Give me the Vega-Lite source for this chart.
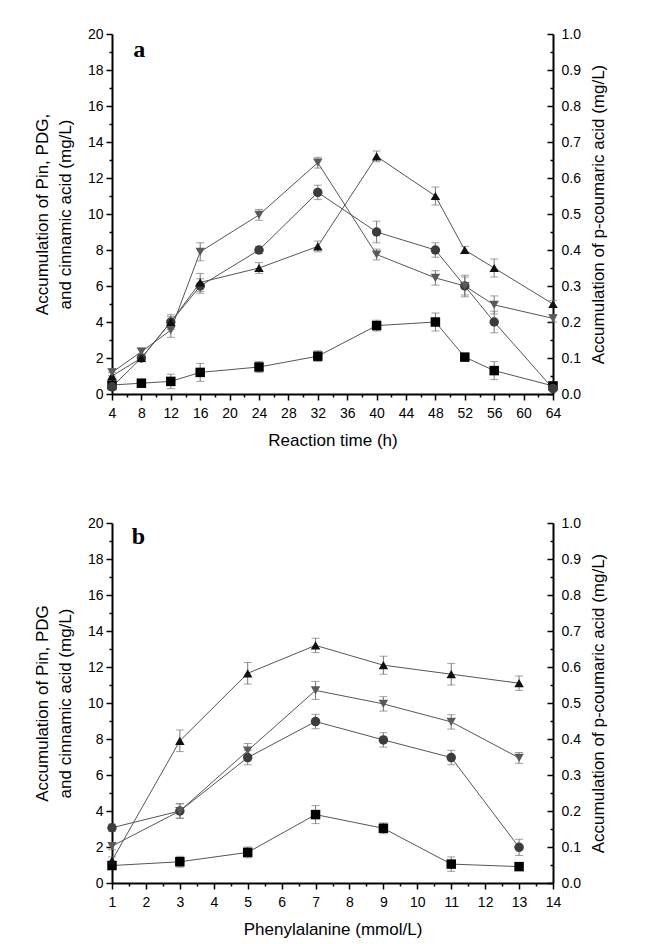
{
  "$schema": "https://vega.github.io/schema/vega-lite/v6.json",
  "padding": {"left": 33, "top": 27, "right": 5, "bottom": 5},
  "spacing": 68,
  "config": {
    "view": {"stroke": null},
    "axis": {
      "labelFont": "Liberation Sans", "titleFont": "Liberation Sans",
      "labelFontSize": 14, "titleFontSize": 17, "titleFontWeight": "normal",
      "labelColor": "#000", "titleColor": "#000", "domainColor": "#000", "tickColor": "#000",
      "domainWidth": 2, "tickWidth": 1.5, "grid": false,
      "labelFlush": false, "labelOverlap": false
    }
  },
  "datasets": {
    "a": [
      {"s": "square", "x": 4, "v": 0.5, "e": 0.1}, {"s": "square", "x": 8, "v": 0.6, "e": 0.1},
      {"s": "square", "x": 12, "v": 0.7, "e": 0.4}, {"s": "square", "x": 16, "v": 1.2, "e": 0.5},
      {"s": "square", "x": 24, "v": 1.5, "e": 0.3}, {"s": "square", "x": 32, "v": 2.1, "e": 0.3},
      {"s": "square", "x": 40, "v": 3.8, "e": 0.3}, {"s": "square", "x": 48, "v": 4.0, "e": 0.5},
      {"s": "square", "x": 52, "v": 2.05, "e": 0.1}, {"s": "square", "x": 56, "v": 1.3, "e": 0.5},
      {"s": "square", "x": 64, "v": 0.45, "e": 0.1},
      {"s": "circle", "x": 4, "v": 0.4, "e": 0.2}, {"s": "circle", "x": 8, "v": 2.0, "e": 0.2},
      {"s": "circle", "x": 12, "v": 4.0, "e": 0.4}, {"s": "circle", "x": 16, "v": 6.0, "e": 0.4},
      {"s": "circle", "x": 24, "v": 8.0, "e": 0.2}, {"s": "circle", "x": 32, "v": 11.2, "e": 0.4},
      {"s": "circle", "x": 40, "v": 9.0, "e": 0.6}, {"s": "circle", "x": 48, "v": 8.0, "e": 0.4},
      {"s": "circle", "x": 52, "v": 6.0, "e": 0.6}, {"s": "circle", "x": 56, "v": 4.0, "e": 0.6},
      {"s": "circle", "x": 64, "v": 0.3, "e": 0.1},
      {"s": "up", "x": 4, "v": 1.0, "e": 0.2}, {"s": "up", "x": 8, "v": 2.0, "e": 0.2},
      {"s": "up", "x": 12, "v": 4.0, "e": 0.3}, {"s": "up", "x": 16, "v": 6.2, "e": 0.5},
      {"s": "up", "x": 24, "v": 7.0, "e": 0.3}, {"s": "up", "x": 32, "v": 8.2, "e": 0.3},
      {"s": "up", "x": 40, "v": 13.2, "e": 0.3}, {"s": "up", "x": 48, "v": 11.0, "e": 0.5},
      {"s": "up", "x": 52, "v": 8.0, "e": 0.2}, {"s": "up", "x": 56, "v": 7.0, "e": 0.5},
      {"s": "up", "x": 64, "v": 5.0, "e": 0.2},
      {"s": "down", "x": 4, "v": 1.2, "e": 0.2}, {"s": "down", "x": 8, "v": 2.35, "e": 0.2},
      {"s": "down", "x": 12, "v": 3.55, "e": 0.4}, {"s": "down", "x": 16, "v": 7.9, "e": 0.5},
      {"s": "down", "x": 24, "v": 9.95, "e": 0.3}, {"s": "down", "x": 32, "v": 12.85, "e": 0.3},
      {"s": "down", "x": 40, "v": 7.75, "e": 0.3}, {"s": "down", "x": 48, "v": 6.45, "e": 0.4},
      {"s": "down", "x": 52, "v": 6.0, "e": 0.5}, {"s": "down", "x": 56, "v": 4.95, "e": 0.5},
      {"s": "down", "x": 64, "v": 4.2, "e": 0.2}
    ],
    "b": [
      {"s": "square", "x": 1, "v": 0.97, "e": 0.1}, {"s": "square", "x": 3, "v": 1.18, "e": 0.3},
      {"s": "square", "x": 5, "v": 1.7, "e": 0.3}, {"s": "square", "x": 7, "v": 3.8, "e": 0.5},
      {"s": "square", "x": 9, "v": 3.04, "e": 0.3}, {"s": "square", "x": 11, "v": 1.05, "e": 0.4},
      {"s": "square", "x": 13, "v": 0.91, "e": 0.1},
      {"s": "circle", "x": 1, "v": 3.07, "e": 0.2}, {"s": "circle", "x": 3, "v": 4.0, "e": 0.4},
      {"s": "circle", "x": 5, "v": 6.97, "e": 0.4}, {"s": "circle", "x": 7, "v": 8.97, "e": 0.4},
      {"s": "circle", "x": 9, "v": 7.95, "e": 0.4}, {"s": "circle", "x": 11, "v": 6.97, "e": 0.4},
      {"s": "circle", "x": 13, "v": 1.98, "e": 0.45},
      {"s": "up", "x": 1, "v": 1.25, "e": 0.2}, {"s": "up", "x": 3, "v": 7.9, "e": 0.6},
      {"s": "up", "x": 5, "v": 11.65, "e": 0.6}, {"s": "up", "x": 7, "v": 13.2, "e": 0.4},
      {"s": "up", "x": 9, "v": 12.1, "e": 0.5}, {"s": "up", "x": 11, "v": 11.6, "e": 0.6},
      {"s": "up", "x": 13, "v": 11.1, "e": 0.4},
      {"s": "down", "x": 1, "v": 2.05, "e": 0.2}, {"s": "down", "x": 3, "v": 4.0, "e": 0.4},
      {"s": "down", "x": 5, "v": 7.35, "e": 0.4}, {"s": "down", "x": 7, "v": 10.7, "e": 0.5},
      {"s": "down", "x": 9, "v": 9.95, "e": 0.4}, {"s": "down", "x": 11, "v": 8.95, "e": 0.4},
      {"s": "down", "x": 13, "v": 6.95, "e": 0.3}
    ],
    "labels": [
      {"panel": "a", "x": 7.7, "v": 19.1, "label": "a"},
      {"panel": "b", "x": 1.78, "v": 19.2, "label": "b"}
    ]
  },
  "vconcat": [
    {
      "width": 441, "height": 360,
      "resolve": {"scale": {"y": "independent"}},
      "layer": [
        {
          "data": {"name": "a"},
          "encoding": {
            "x": {"field": "x", "type": "quantitative",
              "scale": {"domain": [4, 64], "nice": false, "zero": false},
              "axis": {"title": "Reaction time (h)",
                "values": [4,6,8,10,12,14,16,18,20,22,24,26,28,30,32,34,36,38,40,42,44,46,48,50,52,54,56,58,60,62,64],
                "labelExpr": "datum.value % 4 === 0 ? datum.label : ''",
                "tickSize": {"condition": {"test": "datum.value % 4 === 0", "value": 6}, "value": 3},
                "labelPadding": 6, "titlePadding": 12}},
            "y": {"field": "v", "type": "quantitative",
              "scale": {"domain": [0, 20], "nice": false},
              "axis": {"title": ["Accumulation of Pin, PDG,", "and cinnamic acid (mg/L)"],
                "titleLineHeight": 23,
                "values": [0,1,2,3,4,5,6,7,8,9,10,11,12,13,14,15,16,17,18,19,20],
                "labelExpr": "datum.value % 2 === 0 ? datum.label : ''",
                "tickSize": {"condition": {"test": "datum.value % 2 === 0", "value": 6}, "value": 3},
                "labelPadding": 3, "titlePadding": 13}},
            "color": {"field": "s", "type": "nominal", "legend": null,
              "scale": {"domain": ["square", "circle", "up", "down"], "range": ["#000000", "#3c3c3c", "#111111", "#5a5a5a"]}},
            "shape": {"field": "s", "type": "nominal", "legend": null,
              "scale": {"domain": ["square", "circle", "up", "down"], "range": ["square", "circle", "triangle-up", "triangle-down"]}}
          },
          "layer": [
            {"mark": {"type": "line", "color": "#555555", "strokeWidth": 1},
             "encoding": {"detail": {"field": "s"}, "color": {"value": "#555555"}}},
            {"mark": {"type": "errorbar", "ticks": {"size": 8}, "color": "#777777", "thickness": 1},
             "encoding": {"yError": {"field": "e"}, "color": {"value": "#777777"}}},
            {"mark": {"type": "point", "filled": true, "size": 90, "opacity": 1}},
            {"data": {"name": "labels"},
             "transform": [{"filter": "datum.panel === 'a'"}],
             "mark": {"type": "text", "font": "Liberation Serif", "fontWeight": "bold", "fontSize": 24, "align": "center", "baseline": "middle"},
             "encoding": {"text": {"field": "label"}, "color": {"value": "#000"}}}
          ]
        },
        {
          "data": {"values": [{"r": 0}]},
          "mark": {"type": "point", "opacity": 0},
          "encoding": {
            "y": {"field": "r", "type": "quantitative",
              "scale": {"domain": [0, 1], "nice": false},
              "axis": {"orient": "right", "title": "Accumulation of p-coumaric acid (mg/L)",
                "titleAngle": 270, "titleBaseline": "top",
                "values": [0,0.05,0.1,0.15,0.2,0.25,0.3,0.35,0.4,0.45,0.5,0.55,0.6,0.65,0.7,0.75,0.8,0.85,0.9,0.95,1],
                "labelExpr": "round(datum.value*20) % 2 === 0 ? format(datum.value, '.1f') : ''",
                "tickSize": {"condition": {"test": "round(datum.value*20) % 2 === 0", "value": -6}, "value": -3},
                "labelPadding": 14, "titlePadding": 10}}
          }
        }
      ]
    },
    {
      "width": 441, "height": 360,
      "resolve": {"scale": {"y": "independent"}},
      "layer": [
        {
          "data": {"name": "b"},
          "encoding": {
            "x": {"field": "x", "type": "quantitative",
              "scale": {"domain": [1, 14], "nice": false, "zero": false},
              "axis": {"title": "Phenylalanine (mmol/L)",
                "values": [1,1.5,2,2.5,3,3.5,4,4.5,5,5.5,6,6.5,7,7.5,8,8.5,9,9.5,10,10.5,11,11.5,12,12.5,13,13.5,14],
                "labelExpr": "datum.value % 1 === 0 ? format(datum.value, 'd') : ''",
                "tickSize": {"condition": {"test": "datum.value % 1 === 0", "value": 6}, "value": 3},
                "labelPadding": 6, "titlePadding": 12}},
            "y": {"field": "v", "type": "quantitative",
              "scale": {"domain": [0, 20], "nice": false},
              "axis": {"title": ["Accumulation of Pin, PDG", "and cinnamic acid (mg/L)"],
                "titleLineHeight": 23,
                "values": [0,1,2,3,4,5,6,7,8,9,10,11,12,13,14,15,16,17,18,19,20],
                "labelExpr": "datum.value % 2 === 0 ? datum.label : ''",
                "tickSize": {"condition": {"test": "datum.value % 2 === 0", "value": 6}, "value": 3},
                "labelPadding": 3, "titlePadding": 13}},
            "color": {"field": "s", "type": "nominal", "legend": null,
              "scale": {"domain": ["square", "circle", "up", "down"], "range": ["#000000", "#3c3c3c", "#111111", "#5a5a5a"]}},
            "shape": {"field": "s", "type": "nominal", "legend": null,
              "scale": {"domain": ["square", "circle", "up", "down"], "range": ["square", "circle", "triangle-up", "triangle-down"]}}
          },
          "layer": [
            {"mark": {"type": "line", "color": "#555555", "strokeWidth": 1},
             "encoding": {"detail": {"field": "s"}, "color": {"value": "#555555"}}},
            {"mark": {"type": "errorbar", "ticks": {"size": 8}, "color": "#777777", "thickness": 1},
             "encoding": {"yError": {"field": "e"}, "color": {"value": "#777777"}}},
            {"mark": {"type": "point", "filled": true, "size": 90, "opacity": 1}},
            {"data": {"name": "labels"},
             "transform": [{"filter": "datum.panel === 'b'"}],
             "mark": {"type": "text", "font": "Liberation Serif", "fontWeight": "bold", "fontSize": 24, "align": "center", "baseline": "middle"},
             "encoding": {"text": {"field": "label"}, "color": {"value": "#000"}}}
          ]
        },
        {
          "data": {"values": [{"r": 0}]},
          "mark": {"type": "point", "opacity": 0},
          "encoding": {
            "y": {"field": "r", "type": "quantitative",
              "scale": {"domain": [0, 1], "nice": false},
              "axis": {"orient": "right", "title": "Accumulation of p-coumaric acid (mg/L)",
                "titleAngle": 270, "titleBaseline": "top",
                "values": [0,0.05,0.1,0.15,0.2,0.25,0.3,0.35,0.4,0.45,0.5,0.55,0.6,0.65,0.7,0.75,0.8,0.85,0.9,0.95,1],
                "labelExpr": "round(datum.value*20) % 2 === 0 ? format(datum.value, '.1f') : ''",
                "tickSize": {"condition": {"test": "round(datum.value*20) % 2 === 0", "value": -6}, "value": -3},
                "labelPadding": 14, "titlePadding": 10}}
          }
        }
      ]
    }
  ]
}
